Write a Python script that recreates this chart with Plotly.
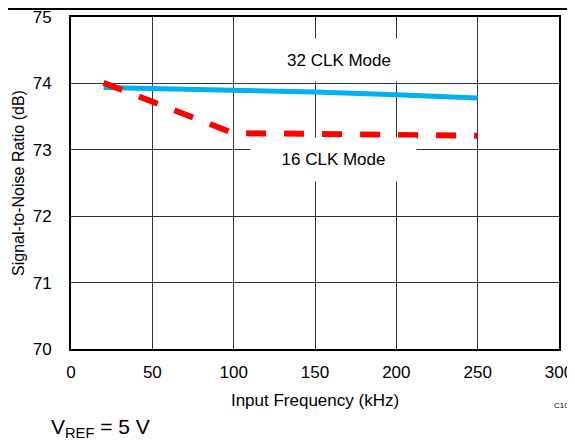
import plotly.graph_objects as go

freq_32 = [20, 100, 150, 200, 250]
snr_32 = [73.94, 73.90, 73.87, 73.83, 73.78]
freq_16 = [20, 100, 150, 200, 250]
snr_16 = [74.01, 73.25, 73.24, 73.23, 73.21]
x_ticks = [0, 50, 100, 150, 200, 250, 300]
y_ticks = [70, 71, 72, 73, 74, 75]

FONT = "Liberation Sans, Arial, sans-serif"

fig = go.Figure()
fig.add_trace(go.Scatter(x=freq_32, y=snr_32, mode="lines",
                         line=dict(color="#00B0F0", width=5), showlegend=False))
fig.add_trace(go.Scatter(x=freq_16, y=snr_16, mode="lines",
                         line=dict(color="#FF0000", width=6, dash="20px,18px"), showlegend=False))

fig.add_annotation(x=164.5, y=74.35, xref="x", yref="y", text="32 CLK Mode", showarrow=False,
                   font=dict(size=17, color="black", family=FONT), bgcolor="white",
                   width=150, height=40)
fig.add_annotation(x=161.5, y=72.85, xref="x", yref="y", text="16 CLK Mode", showarrow=False,
                   font=dict(size=17, color="black", family=FONT), bgcolor="white",
                   width=163, height=41)
fig.add_annotation(x=-0.045, y=-0.238, xref="paper", yref="paper", xanchor="left", yanchor="middle",
                   text="V<sub>REF</sub> = 5 V", showarrow=False,
                   font=dict(size=21, color="black", family=FONT))
fig.add_annotation(x=0.986, y=-0.169, xref="paper", yref="paper", xanchor="left", yanchor="middle",
                   text="C107", showarrow=False,
                   font=dict(size=8, color="black", family=FONT))

fig.add_shape(type="line", xref="paper", yref="paper", x0=-0.129, x1=1.033, y0=1.024, y1=1.024,
              line=dict(color="black", width=2))

fig.update_xaxes(range=[0, 300], tickvals=x_ticks, showgrid=True, gridcolor="#333", gridwidth=1,
                 showline=True, linecolor="black", linewidth=2, mirror=True, zeroline=False,
                 ticks="", ticklabelstandoff=7, automargin=False, ticklabeloverflow="allow",
                 tickfont=dict(size=17, color="black", family=FONT),
                 title=dict(text="Input Frequency (kHz)", standoff=13,
                            font=dict(size=17, color="black", family=FONT)))
fig.update_yaxes(range=[70, 75], tickvals=y_ticks, showgrid=True, gridcolor="#333", gridwidth=1,
                 showline=True, linecolor="black", linewidth=2, mirror=True, zeroline=False,
                 ticks="", ticklabelstandoff=14, automargin=False, ticklabeloverflow="allow",
                 tickfont=dict(size=17, color="black", family=FONT),
                 title=dict(text="Signal-to-Noise Ratio (dB)", standoff=4,
                            font=dict(size=16, color="black", family=FONT)))

fig.update_layout(width=567, height=434, margin=dict(l=63, r=16, t=9, b=93),
                  plot_bgcolor="white", paper_bgcolor="white")

fig.write_html("out.html")
